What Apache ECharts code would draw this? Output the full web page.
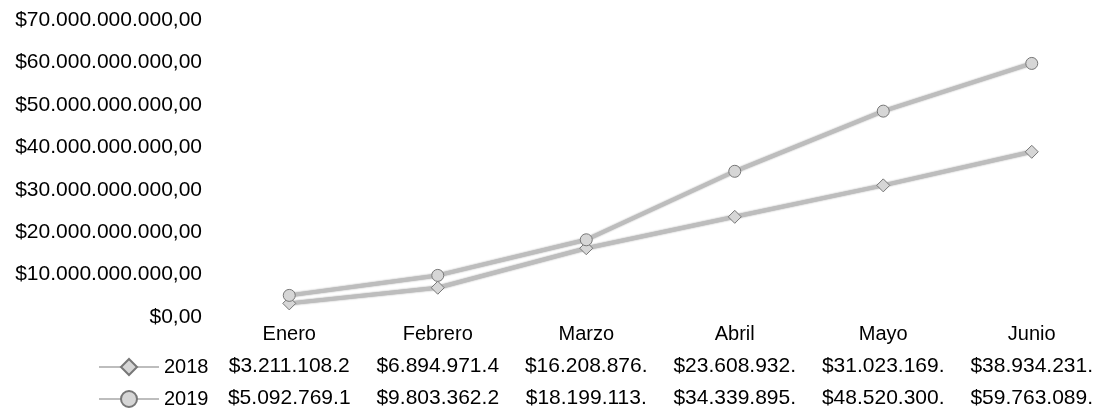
<!DOCTYPE html>
<html>
<head>
<meta charset="utf-8">
<script src="https://cdn.jsdelivr.net/npm/echarts@6/dist/echarts.min.js"></script>
<style>
html,body{margin:0;padding:0;background:#fff;}
#chart{width:1106px;height:418px;}
</style>
</head>
<body>
<div id="chart"></div>
<script>
// Data
const categories = ['Enero', 'Febrero', 'Marzo', 'Abril', 'Mayo', 'Junio'];
const seriesNames = ['2018', '2019'];
const values2018 = [3211108200, 6894971400, 16208876000, 23608932000, 31023169000, 38934231000];
const values2019 = [5092769100, 9803362200, 18199113000, 34339895000, 48520300000, 59763089000];
const yMin = 0, yMax = 70000000000, yInterval = 10000000000;

function fmtMoney(v) {
  const neg = v < 0;
  v = Math.abs(v);
  const fixed = v.toFixed(2);
  let [ip, dp] = fixed.split('.');
  ip = ip.replace(/\B(?=(\d{3})+(?!\d))/g, '.');
  return (neg ? '-' : '') + '$' + ip + ',' + dp;
}
// table cells are cut at a fixed width in the reference
function cell(v) { return fmtMoney(v).slice(0, 12); }

const FONT = '"Liberation Sans", Arial, sans-serif';
const chart = echarts.init(document.getElementById('chart'));
chart.setOption({
  backgroundColor: '#fff',
  animation: false,
  textStyle: { fontFamily: FONT },
  grid: { left: 215, right: -9, top: 20, bottom: 101, containLabel: false },
  legend: {
    orient: 'vertical',
    left: 93,
    top: 352,
    itemWidth: 60,
    itemHeight: 20,
    itemGap: 12,
    data: seriesNames,
    textStyle: { fontFamily: FONT, fontSize: 20, color: '#000', lineHeight: 20 }
  },
  xAxis: {
    type: 'category',
    data: categories,
    boundaryGap: true,
    axisLine: { show: false },
    axisTick: { show: false },
    splitLine: { show: false },
    axisLabel: {
      margin: 1,
      interval: 0,
      formatter: function (val, idx) {
        return '{c|' + val + '}\n{v|' + cell(values2018[idx]) + '}\n{v|' + cell(values2019[idx]) + '}';
      },
      rich: {
        c: { fontFamily: FONT, fontSize: 20, color: '#000', lineHeight: 32 },
        v: { fontFamily: FONT, fontSize: 21, color: '#000', lineHeight: 32 }
      }
    }
  },
  yAxis: {
    type: 'value',
    min: yMin,
    max: yMax,
    interval: yInterval,
    axisLine: { show: false },
    axisTick: { show: false },
    splitLine: { show: false },
    axisLabel: {
      margin: 13,
      fontFamily: FONT,
      fontSize: 21,
      color: '#000',
      formatter: fmtMoney
    }
  },
  series: [
    {
      name: '2018',
      type: 'line',
      data: values2018,
      symbol: 'diamond',
      symbolSize: 13,
      lineStyle: { color: '#bdbdbd', width: 4, shadowColor: 'rgba(0,0,0,0.4)', shadowBlur: 2 },
      itemStyle: { color: '#d6d6d6', borderColor: '#777', borderWidth: 1 }
    },
    {
      name: '2019',
      type: 'line',
      data: values2019,
      symbol: 'circle',
      symbolSize: 12,
      lineStyle: { color: '#bdbdbd', width: 4, shadowColor: 'rgba(0,0,0,0.4)', shadowBlur: 2 },
      itemStyle: { color: '#d6d6d6', borderColor: '#777', borderWidth: 1 }
    }
  ]
});
</script>
</body>
</html>
